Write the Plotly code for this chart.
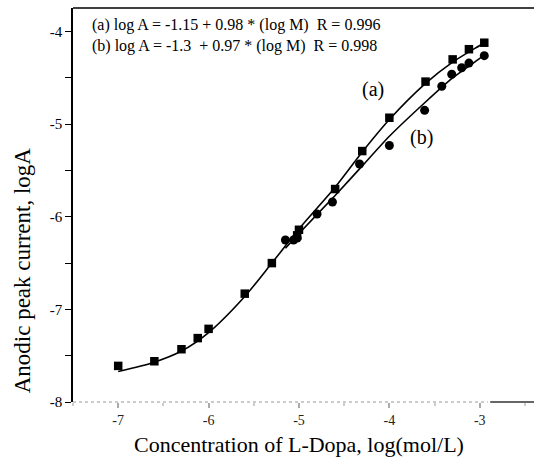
import plotly.graph_objects as go

# Series (a): squares
a_x = [-7.0, -6.6, -6.3, -6.12, -6.0, -5.6, -5.3, -5.02, -5.0, -4.6, -4.3, -4.0, -3.6, -3.3, -3.12, -2.95]
a_y = [-7.61, -7.56, -7.43, -7.31, -7.21, -6.83, -6.50, -6.20, -6.14, -5.70, -5.29, -4.93, -4.54, -4.30, -4.19, -4.12]

# Series (b): circles
b_x = [-5.15, -5.06, -5.02, -4.8, -4.63, -4.33, -4.0, -3.61, -3.42, -3.31, -3.2, -3.12, -2.95]
b_y = [-6.25, -6.25, -6.23, -5.97, -5.84, -5.43, -5.23, -4.85, -4.59, -4.46, -4.39, -4.34, -4.26]

# Fitted curves
fit_a_x = [-7.0, -6.6, -6.3, -6.0, -5.6, -5.3, -5.0, -4.6, -4.3, -4.0, -3.6, -3.3, -3.0, -2.95]
fit_a_y = [-7.67, -7.57, -7.45, -7.25, -6.86, -6.50, -6.13, -5.68, -5.30, -4.95, -4.56, -4.33, -4.15, -4.12]
fit_b_x = [-5.15, -5.0, -4.6, -4.3, -4.0, -3.6, -3.3, -3.0, -2.95]
fit_b_y = [-6.34, -6.18, -5.77, -5.45, -5.13, -4.76, -4.50, -4.29, -4.25]

x_ticks = [-7, -6, -5, -4, -3]
y_ticks = [-8, -7, -6, -5, -4]

eq_a = "(a) log A = -1.15 + 0.98 * (log M)  R = 0.996"
eq_b = "(b) log A = -1.3  + 0.97 * (log M)  R = 0.998"

SERIF = "Liberation Serif, Times New Roman, serif"

fig = go.Figure()
fig.add_trace(go.Scatter(x=fit_a_x, y=fit_a_y, mode="lines", line=dict(color="black", width=1.6, shape="spline", smoothing=0.8), showlegend=False, hoverinfo="skip"))
fig.add_trace(go.Scatter(x=fit_b_x, y=fit_b_y, mode="lines", line=dict(color="black", width=1.6, shape="spline", smoothing=0.6), showlegend=False, hoverinfo="skip"))
fig.add_trace(go.Scatter(x=a_x, y=a_y, mode="markers", marker=dict(symbol="square", size=8.5, color="black"), showlegend=False))
fig.add_trace(go.Scatter(x=b_x, y=b_y, mode="markers", marker=dict(symbol="circle", size=9, color="black"), showlegend=False))

fig.update_layout(
    width=534, height=465,
    margin=dict(l=73, r=0, t=8, b=63),
    plot_bgcolor="white", paper_bgcolor="white",
    font=dict(family=SERIF, color="black"),
    xaxis=dict(
        range=[-7.5, -2.4], tickvals=x_ticks, ticktext=[str(v) for v in x_ticks],
        showgrid=False, zeroline=False, showline=False,
        ticks="outside", ticklen=5, tickcolor="#aaaaaa", tickwidth=2,
        minor=dict(dtick=0.5, ticks="outside", ticklen=3, tickcolor="#cccccc", tickwidth=2),
        tickfont=dict(size=14, color="#222222"),
    ),
    yaxis=dict(
        range=[-8, -3.745], tickvals=y_ticks, ticktext=[str(v) for v in y_ticks],
        showgrid=False, zeroline=False, showline=True, linecolor="black", linewidth=1.5,
        ticks="outside", ticklen=6, tickcolor="black", tickwidth=1,
        minor=dict(dtick=0.5, ticks="outside", ticklen=6, tickcolor="black", tickwidth=1),
        tickfont=dict(size=15),
    ),
    shapes=[
        dict(type="line", xref="paper", yref="paper", x0=0, x1=0.9, y0=0, y1=0, line=dict(color="#999999", width=1, dash="dot")),
        dict(type="line", xref="paper", yref="paper", x0=0.905, x1=1, y0=0, y1=0, line=dict(color="#333333", width=1.5)),
        dict(type="line", xref="paper", yref="paper", x0=0, x1=1, y0=1, y1=1, line=dict(color="black", width=1.5)),
    ],
    annotations=[
        dict(text=eq_a, xref="paper", yref="paper", x=0.037, y=0.957, xanchor="left", yanchor="middle", showarrow=False, font=dict(size=16)),
        dict(text=eq_b, xref="paper", yref="paper", x=0.037, y=0.904, xanchor="left", yanchor="middle", showarrow=False, font=dict(size=16)),
        dict(text="(a)", x=-4.18, y=-4.62, xref="x", yref="y", showarrow=False, font=dict(size=20)),
        dict(text="(b)", x=-3.64, y=-5.14, xref="x", yref="y", showarrow=False, font=dict(size=20)),
        dict(text="Anodic peak current, logA", xref="paper", yref="paper", x=-0.11, y=0.335, xanchor="center", yanchor="middle", textangle=-90, showarrow=False, font=dict(size=23)),
        dict(text="Concentration of L-Dopa, log(mol/L)", xref="paper", yref="paper", x=0.49, y=-0.108, xanchor="center", yanchor="middle", showarrow=False, font=dict(size=22)),
    ],
)

fig.write_html("out.html")
